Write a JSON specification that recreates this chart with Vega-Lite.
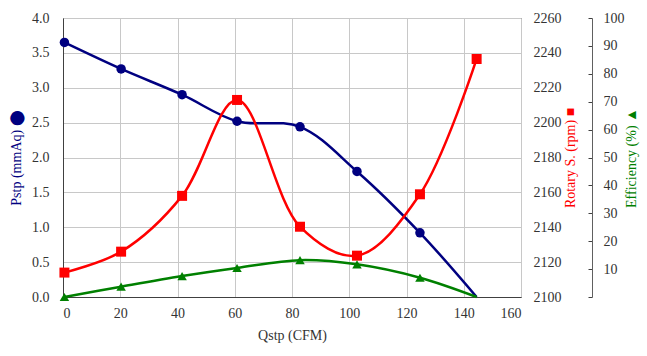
{
  "$schema": "https://vega.github.io/schema/vega-lite/v6.json",
  "autosize": {"type": "none"},
  "padding": {"left": 63, "top": 18, "right": 126, "bottom": 59},
  "width": 458,
  "height": 279,
  "background": "white",
  "config": {
    "font": "Liberation Serif",
    "view": {"stroke": "#404040", "strokeWidth": 1},
    "axis": {
      "labelFont": "Liberation Serif",
      "titleFont": "Liberation Serif",
      "labelFontSize": 14,
      "titleFontSize": 14,
      "titleFontWeight": "normal",
      "labelColor": "#333333",
      "titleColor": "#333333",
      "domainColor": "#404040",
      "tickColor": "#404040",
      "gridColor": "#c8c8c8",
      "gridWidth": 1
    }
  },
  "data": {
    "values": [
      {"q": 0.5, "pstp": 3.65, "rpm": 2114, "eff": 0.0},
      {"q": 20.3, "pstp": 3.27, "rpm": 2126, "eff": 3.7},
      {"q": 41.6, "pstp": 2.9, "rpm": 2158, "eff": 7.5},
      {"q": 60.8, "pstp": 2.52, "rpm": 2213, "eff": 10.4},
      {"q": 82.8, "pstp": 2.44, "rpm": 2140.3, "eff": 13.2},
      {"q": 102.7, "pstp": 1.8, "rpm": 2123.7, "eff": 11.7},
      {"q": 124.7, "pstp": 0.92, "rpm": 2158.9, "eff": 6.9},
      {"q": 144.5, "pstp": 0.0, "rpm": 2236.5, "eff": 0.0}
    ]
  },
  "encoding": {
    "x": {
      "field": "q",
      "type": "quantitative",
      "scale": {"domain": [0, 160], "nice": false},
      "axis": {
        "title": "Qstp (CFM)",
        "values": [0, 20, 40, 60, 80, 100, 120, 140, 160],
        "grid": true,
        "ticks": false,
        "labelFont": "Liberation Serif",
        "labelPadding": 9,
        "titlePadding": 8,
        "domain": true
      }
    }
  },
  "layer": [
    {
      "encoding": {
        "y": {
          "field": "pstp",
          "type": "quantitative",
          "scale": {"domain": [0, 4], "nice": false},
          "axis": {
            "orient": "left",
            "title": "Pstp (mmAq) ⬤",
            "titleColor": "#000080",
            "values": [0, 0.5, 1, 1.5, 2, 2.5, 3, 3.5, 4],
            "format": ".1f",
            "labelFont": "Liberation Serif",
            "grid": true,
            "ticks": false,
            "labelPadding": 14,
            "titlePadding": 8
          }
        }
      },
      "layer": [
        {"mark": {"type": "line", "color": "#000080", "strokeWidth": 2.5, "interpolate": "catmull-rom"}},
        {
          "transform": [{"filter": "datum.q < 140"}],
          "mark": {"type": "point", "shape": "circle", "filled": true, "opacity": 1, "color": "#000080", "size": 90}
        }
      ]
    },
    {
      "encoding": {
        "y": {
          "field": "rpm",
          "type": "quantitative",
          "scale": {"domain": [2100, 2260], "nice": false},
          "axis": {
            "orient": "right",
            "title": "Rotary S. (rpm) ■",
            "titleColor": "#ff0000",
            "titleAngle": 270,
            "values": [2100, 2120, 2140, 2160, 2180, 2200, 2220, 2240, 2260],
            "format": "d",
            "labelFont": "Liberation Serif",
            "grid": false,
            "ticks": false,
            "domain": false,
            "labelPadding": 12,
            "titlePadding": 16
          }
        }
      },
      "layer": [
        {"mark": {"type": "line", "color": "#ff0000", "strokeWidth": 2.5, "interpolate": "catmull-rom"}},
        {"mark": {"type": "point", "shape": "square", "filled": true, "opacity": 1, "color": "#ff0000", "size": 100}}
      ]
    },
    {
      "encoding": {
        "y": {
          "field": "eff",
          "type": "quantitative",
          "scale": {"domain": [0, 100], "nice": false},
          "axis": {
            "orient": "right",
            "offset": 71,
            "title": "Efficiency (%) ▲",
            "titleColor": "#008000",
            "titleAngle": 270,
            "values": [0, 10, 20, 30, 40, 50, 60, 70, 80, 90, 100],
            "labelExpr": "datum.value == 0 ? '' : datum.label",
            "labelFont": "Liberation Serif",
            "grid": false,
            "ticks": true,
            "tickSize": -4,
            "domain": true,
            "domainColor": "#606060",
            "labelPadding": 15,
            "titlePadding": 14
          }
        }
      },
      "layer": [
        {"mark": {"type": "line", "color": "#008000", "strokeWidth": 2.5, "interpolate": "catmull-rom"}},
        {
          "transform": [{"filter": "datum.q < 140"}],
          "mark": {"type": "point", "shape": "triangle-up", "filled": true, "opacity": 1, "color": "#008000", "size": 90}
        }
      ]
    }
  ],
  "resolve": {"scale": {"y": "independent"}, "axis": {"y": "independent"}}
}
